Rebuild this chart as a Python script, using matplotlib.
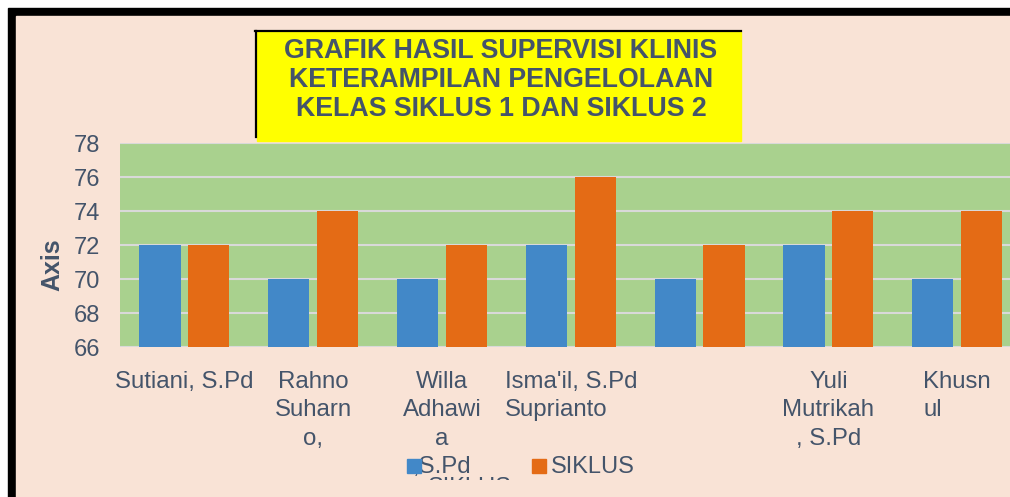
import matplotlib.pyplot as plt
from matplotlib.patches import Rectangle
import numpy as np

plt.rcParams['font.family'] = ['Liberation Sans', 'DejaVu Sans']

categories = ["Sutiani, S.Pd", "Rahno\nSuharn\no,", "Willa\nAdhawi\na\n,S.Pd",
              "Isma'il, S.Pd\nSuprianto", "", "Yuli\nMutrikah\n, S.Pd", "Khusn\nul"]
left_aligned = [3, 6]  # labels that Excel wrapped left-aligned
siklus1 = [72, 70, 70, 72, 70, 72, 70]
siklus2 = [72, 74, 72, 76, 72, 74, 74]
series = ["SIKLUS 1", "SIKLUS 2"]
yticks = [66, 68, 70, 72, 74, 76, 78]
title = "GRAFIK HASIL SUPERVISI KLINIS\nKETERAMPILAN PENGELOLAAN\nKELAS SIKLUS 1 DAN SIKLUS 2"

BLUE = '#4288C8'
ORANGE = '#E46B15'
GREEN = '#A9D18E'
PEACH = '#F9E3D6'
TXT = '#44546A'
GRID = '#D9D9D9'

W, H = 1010, 497


def fx(px):
    return px / W


def fy(py):
    return 1 - py / H


fig = plt.figure(figsize=(W / 100, H / 100), dpi=100, facecolor='white')
# black frame + peach chart area (picture is cropped on the right/bottom)
fig.add_artist(Rectangle((fx(8), 0), 1, fy(8), transform=fig.transFigure,
                         color='black', zorder=-10))
fig.add_artist(Rectangle((fx(16), 0), 1, fy(16), transform=fig.transFigure,
                         color=PEACH, zorder=-9))

ax = fig.add_axes([fx(120), fy(347), fx(1021.6) - fx(120), fy(143) - fy(347)])
ax.set_facecolor(GREEN)

x = np.arange(len(categories))
bw = 0.32
ax.bar(x - 0.19, siklus1, bw, color=BLUE, zorder=3, label=series[0])
ax.bar(x + 0.19, siklus2, bw, color=ORANGE, zorder=3, label=series[1])

ax.set_xlim(-0.5, len(categories) - 0.5)
ax.set_ylim(66, 78)
ax.set_yticks(yticks)
ax.yaxis.grid(True, color=GRID, lw=1.5, zorder=1)
ax.set_axisbelow(True)
for s in ax.spines.values():
    s.set_visible(False)

ax.tick_params(axis='y', length=0, pad=14.4, labelsize=17, labelcolor=TXT)
ax.tick_params(axis='x', length=0, pad=17.5, labelsize=17.3, labelcolor=TXT)
ax.set_xticks(x)
ax.set_xticklabels(categories, linespacing=1.36)
for i, lab in enumerate(ax.get_xticklabels()):
    if i in left_aligned:
        lab.set_multialignment('left')

fig.text(fx(52.5), fy(265), "Axis", rotation=90, ha='center', va='center',
         fontsize=18, weight='bold', color=TXT)

# title box
fig.add_artist(Rectangle((fx(257), fy(141)), fx(741) - fx(257), fy(32) - fy(141),
                         transform=fig.transFigure, color='#FFFF00', zorder=5))
fig.add_artist(plt.Line2D([fx(256), fx(256)], [fy(31), fy(137)], transform=fig.transFigure,
                          color='black', lw=1.6, zorder=6))
fig.add_artist(plt.Line2D([fx(255), fx(741)], [fy(31), fy(31)], transform=fig.transFigure,
                          color='black', lw=1.6, zorder=6))
fig.text(fx(501), fy(80), title, ha='center', va='center', fontsize=19.3,
         weight='bold', color=TXT, linespacing=1.13, zorder=7)

# legend (partly cut off at the bottom, as in the original)
clip = Rectangle((0, fy(480)), 1, 1, transform=fig.transFigure)
for col, lx in [(BLUE, 407), (ORANGE, 532)]:
    fig.add_artist(Rectangle((fx(lx), fy(473)), fx(14), fy(459) - fy(473),
                             transform=fig.transFigure, color=col, zorder=2))
t1 = fig.text(fx(428), fy(477), series[0].replace(' ', '\n'), ha='left', va='top',
              fontsize=17, color=TXT)
t1.set_clip_path(clip)
t2 = fig.text(fx(551), fy(456), series[1].replace(' ', '\n'), ha='left', va='top',
              fontsize=17, color=TXT)
t2.set_clip_path(clip)

fig.savefig('out.png', dpi=100, facecolor=fig.get_facecolor())
